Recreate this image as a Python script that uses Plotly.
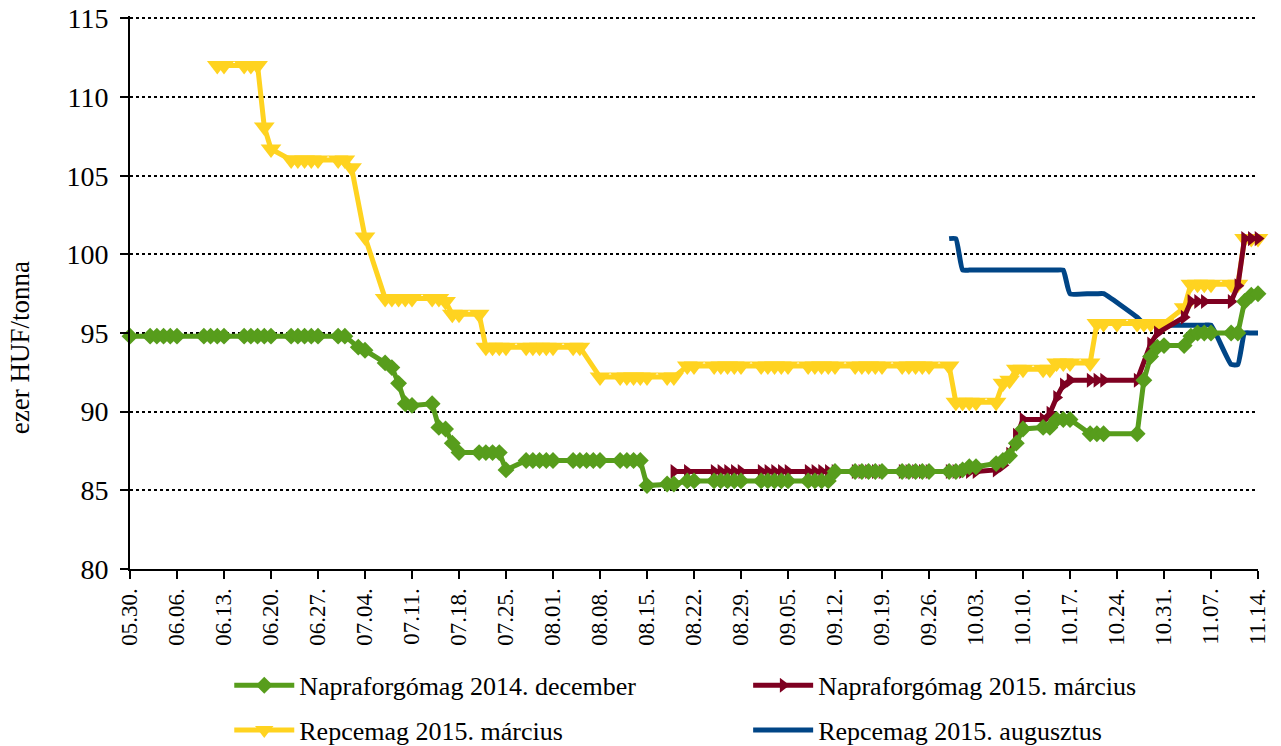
import plotly.graph_objects as go
import pandas as pd

YEAR = "2014-"

# Napraforgómag 2014. december (green)
green_dates = ["05-30", "06-02", "06-03", "06-04", "06-05", "06-06", "06-10", "06-11", "06-12", "06-13",
               "06-16", "06-17", "06-18", "06-19", "06-20", "06-23", "06-24", "06-25", "06-26", "06-27",
               "06-30", "07-01", "07-03", "07-04", "07-07", "07-08", "07-09", "07-10", "07-11",
               "07-14", "07-15", "07-16", "07-17", "07-18", "07-21", "07-22", "07-23", "07-24", "07-25",
               "07-28", "07-29", "07-30", "07-31", "08-01", "08-04", "08-05", "08-06", "08-07", "08-08",
               "08-11", "08-12", "08-13", "08-14", "08-15", "08-18", "08-19", "08-21", "08-22",
               "08-25", "08-26", "08-27", "08-28", "08-29", "09-01", "09-02", "09-03", "09-04", "09-05",
               "09-08", "09-09", "09-10", "09-11", "09-12", "09-15", "09-16", "09-17", "09-18", "09-19",
               "09-22", "09-23", "09-24", "09-25", "09-26", "09-29", "09-30", "10-01", "10-02", "10-03",
               "10-06", "10-07", "10-08", "10-09", "10-10", "10-13", "10-14", "10-15", "10-16", "10-17",
               "10-20", "10-21", "10-22", "10-27", "10-28", "10-29", "10-30", "10-31",
               "11-03", "11-04", "11-05", "11-06", "11-07", "11-10", "11-11", "11-12", "11-13", "11-14"]
green_vals = [94.8, 94.8, 94.8, 94.8, 94.8, 94.8, 94.8, 94.8, 94.8, 94.8,
              94.8, 94.8, 94.8, 94.8, 94.8, 94.8, 94.8, 94.8, 94.8, 94.8,
              94.8, 94.8, 94.1, 93.9, 93.1, 92.8, 91.8, 90.5, 90.4,
              90.5, 89.0, 88.9, 88.0, 87.4, 87.4, 87.4, 87.4, 87.4, 86.3,
              86.9, 86.9, 86.9, 86.9, 86.9, 86.9, 86.9, 86.9, 86.9, 86.9,
              86.9, 86.9, 86.9, 86.9, 85.3, 85.4, 85.4, 85.6, 85.6,
              85.6, 85.6, 85.6, 85.6, 85.6, 85.6, 85.6, 85.6, 85.6, 85.6,
              85.6, 85.6, 85.6, 85.6, 86.2, 86.2, 86.2, 86.2, 86.2, 86.2,
              86.2, 86.2, 86.2, 86.2, 86.2, 86.2, 86.2, 86.3, 86.5, 86.5,
              86.7, 86.9, 87.2, 88.0, 88.9, 89.0, 89.0, 89.5, 89.5, 89.5,
              88.6, 88.6, 88.6, 88.6, 92.0, 93.5, 94.1, 94.2,
              94.2, 94.8, 95.0, 95.0, 95.0, 95.0, 95.0, 97.0, 97.4, 97.5]

# Napraforgómag 2015. március (maroon)
maroon_dates = ["08-19", "08-21", "08-25", "08-26", "08-27", "08-28", "08-29",
                "09-01", "09-02", "09-03", "09-04", "09-05", "09-08", "09-09", "09-10", "09-11", "09-12",
                "09-15", "09-16", "09-17", "09-18", "09-19", "09-22", "09-23", "09-24", "09-25", "09-26",
                "09-29", "09-30", "10-01", "10-02", "10-03", "10-06", "10-07", "10-08", "10-09", "10-10",
                "10-13", "10-14", "10-15", "10-16", "10-17", "10-20", "10-21", "10-22", "10-27",
                "10-29", "10-30", "11-03", "11-04", "11-05", "11-06", "11-10", "11-11", "11-12", "11-13", "11-14"]
maroon_vals = [86.2, 86.2, 86.2, 86.2, 86.2, 86.2, 86.2,
               86.2, 86.2, 86.2, 86.2, 86.2, 86.2, 86.2, 86.2, 86.2, 86.2,
               86.2, 86.2, 86.2, 86.2, 86.2, 86.2, 86.2, 86.2, 86.2, 86.2,
               86.2, 86.2, 86.2, 86.2, 86.2, 86.3, 86.6, 87.3, 88.5, 89.5,
               89.5, 89.9, 90.9, 91.7, 92.0, 92.0, 92.0, 92.0, 92.0,
               94.3, 95.0, 96.0, 97.0, 97.0, 97.0, 97.0, 98.0, 101.0, 101.0, 101.0]

# Repcemag 2015. március (yellow)
yellow_dates = ["06-12", "06-13", "06-16", "06-17", "06-18", "06-19", "06-20",
                "06-23", "06-24", "06-25", "06-26", "06-27", "06-30", "07-01", "07-02", "07-04",
                "07-07", "07-08", "07-09", "07-10", "07-11", "07-14", "07-15", "07-16", "07-17", "07-18",
                "07-21", "07-22", "07-23", "07-24", "07-25", "07-28", "07-29", "07-30", "07-31", "08-01",
                "08-04", "08-05", "08-08", "08-11", "08-12", "08-13", "08-14", "08-15", "08-18", "08-19",
                "08-21", "08-22", "08-25", "08-26", "08-27", "08-28", "08-29", "09-01", "09-02", "09-03",
                "09-04", "09-05", "09-08", "09-09", "09-10", "09-11", "09-12", "09-15", "09-16", "09-17",
                "09-18", "09-19", "09-22", "09-23", "09-24", "09-25", "09-26", "09-29", "09-30",
                "10-01", "10-02", "10-03", "10-06", "10-07", "10-08", "10-09", "10-10", "10-13", "10-14",
                "10-15", "10-16", "10-17", "10-20", "10-21", "10-22", "10-24", "10-27", "10-28", "10-29",
                "10-30", "10-31", "11-03", "11-04", "11-05", "11-06", "11-07", "11-10", "11-11",
                "11-12", "11-13", "11-14"]
yellow_vals = [112.0, 112.0, 112.0, 112.0, 112.0, 108.1, 106.7,
               106.0, 106.0, 106.0, 106.0, 106.0, 106.0, 106.0, 105.5, 101.1,
               97.2, 97.2, 97.2, 97.2, 97.2, 97.2, 97.2, 97.0, 96.2, 96.2,
               96.2, 94.1, 94.1, 94.1, 94.1, 94.1, 94.1, 94.1, 94.1, 94.1,
               94.1, 94.1, 92.2, 92.2, 92.2, 92.2, 92.2, 92.2, 92.2, 92.2,
               92.9, 92.9, 92.9, 92.9, 92.9, 92.9, 92.9, 92.9, 92.9, 92.9,
               92.9, 92.9, 92.9, 92.9, 92.9, 92.9, 92.9, 92.9, 92.9, 92.9,
               92.9, 92.9, 92.9, 92.9, 92.9, 92.9, 92.9, 92.9, 90.6,
               90.6, 90.6, 90.6, 90.6, 91.8, 92.0, 92.7, 92.7, 92.7, 92.7,
               93.1, 93.1, 93.1, 93.1, 95.6, 95.6, 95.6, 95.6, 95.6, 95.6,
               95.6, 95.6, 96.6, 98.1, 98.1, 98.1, 98.1, 98.1, 98.1,
               101.0, 101.0, 101.0]

# Repcemag 2015. augusztus (blue)
blue_dates = ["09-29", "09-30", "10-01", "10-02", "10-03", "10-06", "10-07", "10-08", "10-09", "10-10",
              "10-13", "10-14", "10-15", "10-16", "10-17", "10-20", "10-21", "10-22", "10-27", "10-28",
              "10-29", "10-30", "10-31", "11-03", "11-04", "11-05", "11-06", "11-07", "11-10", "11-11",
              "11-12", "11-13", "11-14"]
blue_vals = [101.0, 101.0, 99.0, 99.0, 99.0, 99.0, 99.0, 99.0, 99.0, 99.0,
             99.0, 99.0, 99.0, 99.0, 97.5, 97.5, 97.5, 97.5, 96.0, 95.6,
             95.5, 95.5, 95.5, 95.5, 95.5, 95.5, 95.5, 95.5, 93.0, 93.0,
             95.0, 95.0, 95.0]

y_ticks = [80, 85, 90, 95, 100, 105, 110, 115]
y_title = "ezer HUF/tonna"

def to_dates(lst):
    return pd.to_datetime([YEAR + d for d in lst])

FONT = "Liberation Serif, Times New Roman, serif"

fig = go.Figure()

fig.add_trace(go.Scatter(
    x=to_dates(blue_dates), y=blue_vals, name="Repcemag 2015. augusztus",
    mode="lines", line=dict(color="#004586", width=5, shape="spline", smoothing=0.4),
    cliponaxis=False, legend="legend2", legendgroup="b", legendrank=2))
fig.add_trace(go.Scatter(
    x=to_dates(yellow_dates), y=yellow_vals, name="Repcemag 2015. március",
    mode="lines+markers", line=dict(color="#ffd320", width=5),
    marker=dict(symbol="triangle-down", size=18, color="#ffd320"), cliponaxis=False,
    legend="legend", legendgroup="y", legendrank=2))
fig.add_trace(go.Scatter(
    x=to_dates(maroon_dates), y=maroon_vals, name="Napraforgómag 2015. március",
    mode="lines+markers", line=dict(color="#7e0021", width=5),
    marker=dict(symbol="triangle-right", size=13, color="#7e0021"), cliponaxis=False,
    legend="legend2", legendgroup="m", legendrank=1))
fig.add_trace(go.Scatter(
    x=to_dates(green_dates), y=green_vals, name="Napraforgómag 2014. december",
    mode="lines+markers", line=dict(color="#579d1c", width=5),
    marker=dict(symbol="diamond", size=13, color="#579d1c"), cliponaxis=False,
    legend="legend", legendgroup="g", legendrank=1))

leg_common = dict(orientation="v", traceorder="grouped", tracegroupgap=8,
                  yanchor="middle", y=-0.251, xanchor="left",
                  font=dict(family=FONT, size=26, color="black"), itemwidth=60,
                  bgcolor="rgba(0,0,0,0)")

fig.update_layout(
    width=1281, height=746,
    paper_bgcolor="white", plot_bgcolor="white",
    margin=dict(l=130, r=23, t=16, b=177, autoexpand=False),
    font=dict(family=FONT, size=24, color="black"),
    showlegend=True,
    legend=dict(x=0.088, **leg_common),
    legend2=dict(x=0.548, **leg_common),
    xaxis=dict(
        type="date",
        range=["2014-05-30", "2014-11-14"],
        tick0="2014-05-30", dtick=7 * 24 * 3600 * 1000,
        tickformat="%m.%d.", tickangle=-90,
        showgrid=False, zeroline=False,
        showline=True, linecolor="black", linewidth=2,
        ticks="outside", ticklen=8, tickwidth=2, tickcolor="black",
        ticklabeloverflow="allow",
        tickfont=dict(family=FONT, size=23, color="black"),
    ),
    yaxis=dict(
        range=[80, 115.15], tickvals=y_ticks,
        showgrid=True, gridcolor="black", gridwidth=2, griddash="dot",
        zeroline=False,
        showline=True, linecolor="black", linewidth=2,
        ticks="outside", ticklen=8, tickwidth=2, tickcolor="black",
        ticklabelstandoff=6, ticklabeloverflow="allow",
        tickfont=dict(family=FONT, size=28, color="black"),
    ),
    annotations=[dict(text=y_title, textangle=-90, xref="paper", yref="paper",
                      x=-0.098, y=0.40, xanchor="center", yanchor="middle",
                      showarrow=False, font=dict(family=FONT, size=27, color="black"))],
)

fig.write_html("out.html", config={"displayModeBar": False},
               post_script="document.body.style.margin='0';document.body.style.overflow='hidden';")
